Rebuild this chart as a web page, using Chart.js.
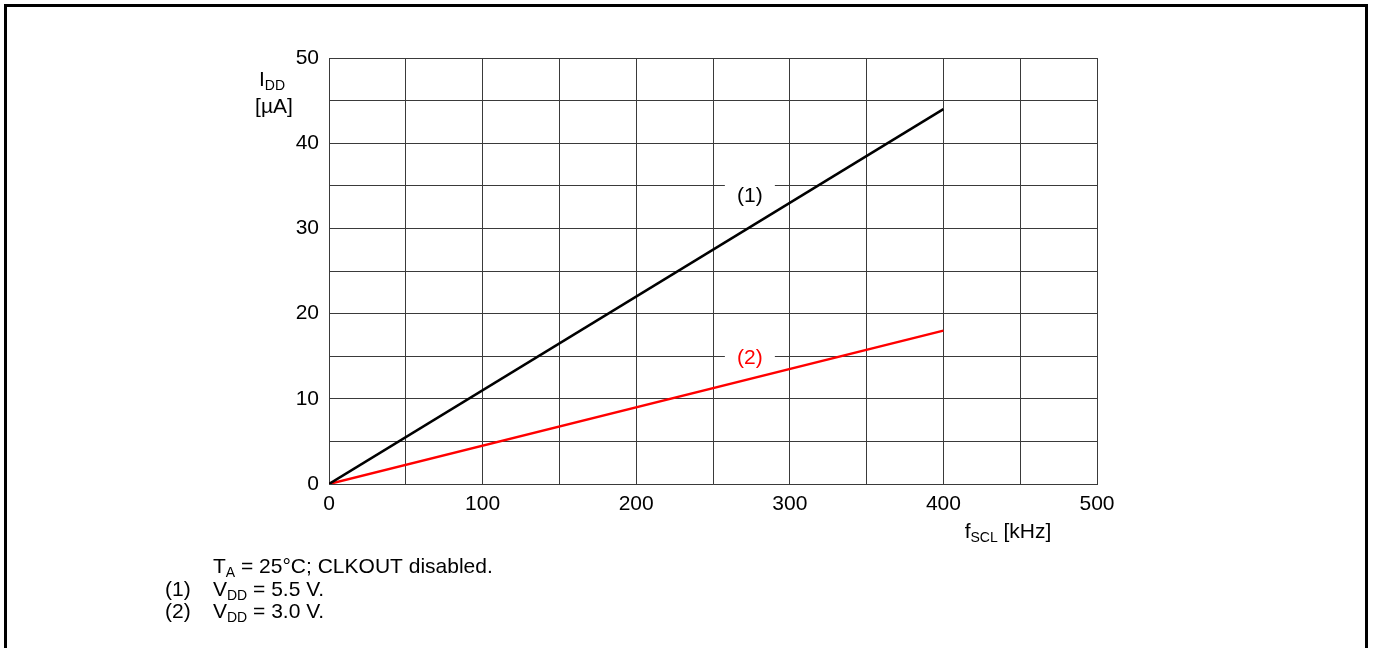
<!DOCTYPE html>
<html>
<head>
<meta charset="utf-8">
<script src="https://cdn.jsdelivr.net/npm/chart.js@4"></script>
<style>
  html, body { margin: 0; padding: 0; background: #fff; }
  #wrap { width: 1374px; height: 648px; }
</style>
</head>
<body>
<div id="wrap"><canvas id="iddChart" width="1374" height="648"></canvas></div>
<script>
// f_SCL in kHz, I_DD in uA
const freqKHz = [0, 400];
const idd55 = [0, 44];   // (1) VDD = 5.5 V
const idd30 = [0, 18];   // (2) VDD = 3.0 V
const xTickLabels = [0, 100, 200, 300, 400, 500];
const yTickLabels = [0, 10, 20, 30, 40, 50];

const FONT = "'Liberation Sans', Arial, sans-serif";
const TXT = 21;

// draws text with subscript parts: [[text, isSub], ...]
function drawRich(ctx, parts, x, y, size, color, align) {
  ctx.save();
  ctx.fillStyle = color;
  ctx.textBaseline = "alphabetic";
  ctx.textAlign = "left";
  let total = 0;
  parts.forEach(p => {
    ctx.font = (p[1] ? Math.round(size * 0.66) : size) + "px " + FONT;
    total += ctx.measureText(p[0]).width;
  });
  let cx = align === "center" ? x - total / 2 : x;
  parts.forEach(p => {
    ctx.font = (p[1] ? Math.round(size * 0.66) : size) + "px " + FONT;
    ctx.fillText(p[0], cx, p[1] ? y + size * 0.2 : y);
    cx += ctx.measureText(p[0]).width;
  });
  ctx.restore();
}

const extras = {
  id: "extras",
  afterDraw(chart) {
    const ctx = chart.ctx;
    const xs = chart.scales.x, ys = chart.scales.y;

    // curve labels with white boxes over the grid
    [["(1)", 274, 33.8, "#000"], ["(2)", 274, 14.8, "#ff0000"]].forEach(l => {
      const px = xs.getPixelForValue(l[1]);
      const py = ys.getPixelForValue(l[2]);
      ctx.save();
      ctx.fillStyle = "#fff";
      ctx.fillRect(px - 25, py - 14, 50, 26);
      ctx.font = TXT + "px " + FONT;
      ctx.fillStyle = l[3];
      ctx.textAlign = "center";
      ctx.textBaseline = "middle";
      ctx.fillText(l[0], px, py);
      ctx.restore();
    });

    // axis titles
    drawRich(ctx, [["I", false], ["DD", true]], 272, 86, TXT, "#000", "center");
    drawRich(ctx, [["[µA]", false]], 274, 113, TXT, "#000", "center");
    drawRich(ctx, [["f", false], ["SCL", true], [" [kHz]", false]], 1008, 538, TXT, "#000", "center");

    // notes
    drawRich(ctx, [["T", false], ["A", true], [" = 25°C; CLKOUT disabled.", false]], 213, 573, TXT, "#000", "left");
    drawRich(ctx, [["(1)", false]], 165, 596, TXT, "#000", "left");
    drawRich(ctx, [["V", false], ["DD", true], [" = 5.5 V.", false]], 213, 596, TXT, "#000", "left");
    drawRich(ctx, [["(2)", false]], 165, 618, TXT, "#000", "left");
    drawRich(ctx, [["V", false], ["DD", true], [" = 3.0 V.", false]], 213, 618, TXT, "#000", "left");

    // figure frame
    ctx.save();
    ctx.strokeStyle = "#000";
    ctx.lineWidth = 3;
    ctx.beginPath();
    ctx.moveTo(5.5, 700);
    ctx.lineTo(5.5, 5.5);
    ctx.lineTo(1366.5, 5.5);
    ctx.lineTo(1366.5, 700);
    ctx.stroke();
    ctx.restore();
  }
};

const ctx = document.getElementById("iddChart").getContext("2d");
new Chart(ctx, {
  type: "scatter",
  data: {
    datasets: [
      {
        label: "VDD = 5.5 V",
        data: freqKHz.map((f, i) => ({ x: f, y: idd55[i] })),
        showLine: true,
        borderColor: "#000",
        borderWidth: 2.5,
        pointRadius: 0
      },
      {
        label: "VDD = 3.0 V",
        data: freqKHz.map((f, i) => ({ x: f, y: idd30[i] })),
        showLine: true,
        borderColor: "#ff0000",
        borderWidth: 2.5,
        pointRadius: 0
      }
    ]
  },
  options: {
    responsive: false,
    animation: false,
    layout: { padding: { left: 229, right: 277, top: 58, bottom: 134 } },
    plugins: { legend: { display: false }, tooltip: { enabled: false } },
    scales: {
      x: {
        type: "linear",
        min: 0,
        max: 500,
        afterFit: s => { s.height = 30; },
        grid: { color: "#3a3a3a", lineWidth: 1, drawTicks: false },
        border: { color: "#3a3a3a", width: 1 },
        ticks: {
          stepSize: 50,
          autoSkip: false,
          maxRotation: 0,
          padding: 8,
          color: "#000",
          font: { family: FONT, size: TXT },
          callback: v => xTickLabels.includes(v) ? String(v) : ""
        }
      },
      y: {
        min: 0,
        max: 50,
        afterFit: s => { s.width = 100; },
        grid: { color: "#3a3a3a", lineWidth: 1, drawTicks: false },
        border: { color: "#3a3a3a", width: 1 },
        ticks: {
          stepSize: 5,
          autoSkip: false,
          padding: 10,
          color: "#000",
          font: { family: FONT, size: TXT },
          callback: v => yTickLabels.includes(v) ? String(v) : ""
        }
      }
    }
  },
  plugins: [extras]
});
</script>
</body>
</html>
